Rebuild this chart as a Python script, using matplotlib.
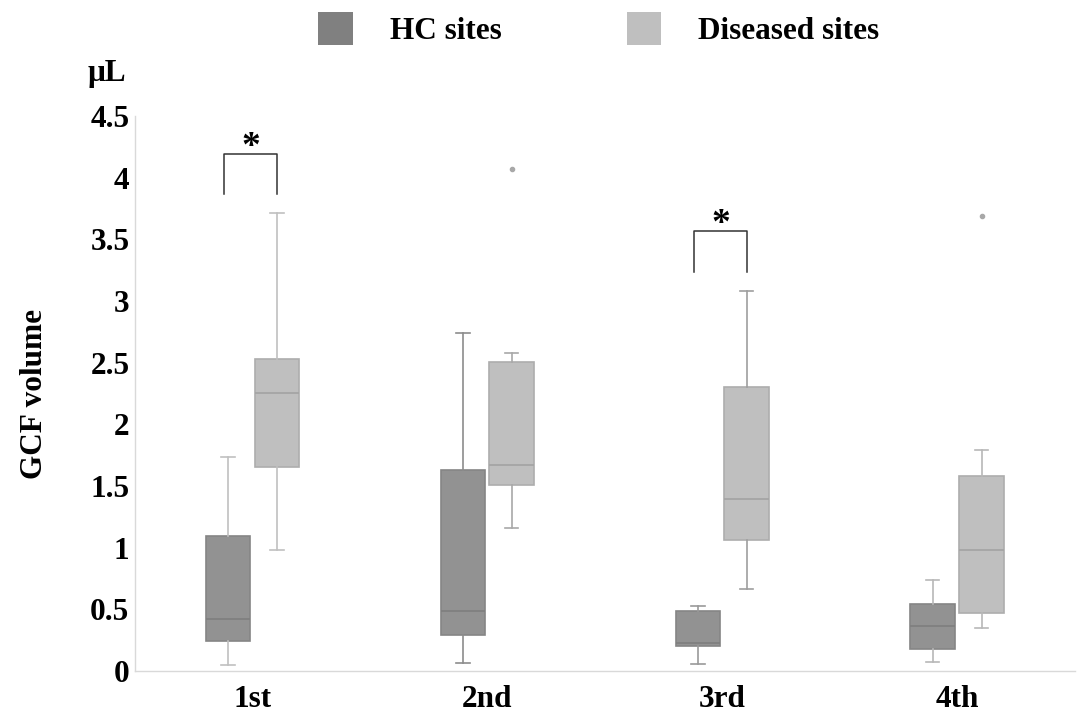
import matplotlib
matplotlib.use("Agg")
import matplotlib.pyplot as plt
from matplotlib.patches import Patch

plt.rcParams['font.family'] = ['Liberation Serif', 'DejaVu Serif']
plt.rcParams['font.weight'] = 'bold'

categories = ["1st", "2nd", "3rd", "4th"]
series = ["HC sites", "Diseased sites"]

# box statistics: whislo, q1, median, q3, whishi
hc_whislo = [0.045, 0.063, 0.057, 0.076]
hc_q1     = [0.24, 0.289, 0.203, 0.178]
hc_med    = [0.42, 0.483, 0.225, 0.367]
hc_q3     = [1.097, 1.627, 0.484, 0.54]
hc_whishi = [1.737, 2.74, 0.527, 0.735]
hc_fliers = [[], [], [], []]

dis_whislo = [0.978, 1.16, 0.662, 0.346]
dis_q1     = [1.656, 1.51, 1.062, 0.473]
dis_med    = [2.253, 1.67, 1.392, 0.979]
dis_q3     = [2.534, 2.51, 2.30, 1.579]
dis_whishi = [3.715, 2.58, 3.08, 1.79]
dis_fliers = [[], [4.07], [], [3.687]]

# significance brackets: group index, leg bottom, bracket top
sig_groups = [0, 2]
sig_bottom = [3.866, 3.24]
sig_top = [4.19, 3.568]
sig_label = ["*", "*"]

yticks = [0, 0.5, 1, 1.5, 2, 2.5, 3, 3.5, 4, 4.5]
yticklabels = ["0", "0.5", "1", "1.5", "2", "2.5", "3", "3.5", "4", "4.5"]

FS = 22.5

fig = plt.figure(figsize=(10.8, 7.17), dpi=100)
ax = fig.add_axes([0.125, 0.0642, 0.87, 0.7738])

offset = 0.104
width = 0.19


def stats(wl, q1, md, q3, wh, fl):
    return [dict(whislo=a, q1=b, med=c, q3=d, whishi=e, fliers=f)
            for a, b, c, d, e, f in zip(wl, q1, md, q3, wh, fl)]


hc_stats = stats(hc_whislo, hc_q1, hc_med, hc_q3, hc_whishi, hc_fliers)
dis_stats = stats(dis_whislo, dis_q1, dis_med, dis_q3, dis_whishi, dis_fliers)

pos = list(range(len(categories)))

hc = ax.bxp(hc_stats, positions=[p - offset for p in pos], widths=width,
            patch_artist=True, capwidths=width * 0.3,
            boxprops=dict(facecolor="#929292", edgecolor="#858585", linewidth=1.2),
            medianprops=dict(color="#7e7e7e", linewidth=1.2),
            whiskerprops=dict(color="#a6a6a6", linewidth=1.2),
            capprops=dict(color="#a6a6a6", linewidth=1.2),
            flierprops=dict(marker="o", markersize=3, markerfacecolor="#a0a0a0",
                            markeredgecolor="#a0a0a0"))
dis = ax.bxp(dis_stats, positions=[p + offset for p in pos], widths=width,
             patch_artist=True, capwidths=width * 0.3,
             boxprops=dict(facecolor="#bfbfbf", edgecolor="#adadad", linewidth=1.2),
             medianprops=dict(color="#a3a3a3", linewidth=1.2),
             whiskerprops=dict(color="#b4b4b4", linewidth=1.2),
             capprops=dict(color="#b4b4b4", linewidth=1.2),
             flierprops=dict(marker="o", markersize=3, markerfacecolor="#a8a8a8",
                             markeredgecolor="#a8a8a8"))

# whisker shades vary a little per box in the reference
hc_wcol = ["#c0c0c0", "#8c8c8c", "#9a9a9a", "#b8b8b8"]
dis_wcol = ["#c0c0c0", "#a8a8a8", "#9e9e9e", "#b8b8b8"]
for arts, cols in ((hc, hc_wcol), (dis, dis_wcol)):
    for i, c in enumerate(cols):
        for ln in arts["whiskers"][2 * i:2 * i + 2] + arts["caps"][2 * i:2 * i + 2]:
            ln.set_color(c)

for g, b, t, lab in zip(sig_groups, sig_bottom, sig_top, sig_label):
    x1 = g - offset - 0.015
    x2 = g + offset
    ax.plot([x1, x1, x2, x2], [b, t, t, b], color="#333333", linewidth=1.1)
    ax.text((x1 + x2) / 2, t - 0.09, lab, ha="center", va="bottom",
            fontsize=27, fontweight="bold")

ax.set_xlim(-0.5, len(categories) - 0.5)
ax.set_ylim(0, 4.5)
ax.set_xticks(pos)
ax.set_xticklabels(categories, fontsize=FS, fontweight="bold")
ax.set_yticks(yticks)
ax.set_yticklabels(yticklabels, fontsize=FS, fontweight="bold")
ax.tick_params(axis="both", length=0)
ax.tick_params(axis="x", pad=10)
ax.tick_params(axis="y", pad=4)
for s in ["top", "right"]:
    ax.spines[s].set_visible(False)
for s in ["left", "bottom"]:
    ax.spines[s].set_color("#d9d9d9")
    ax.spines[s].set_linewidth(1.0)

ax.set_ylabel("GCF volume", fontsize=FS, fontweight="bold", labelpad=30)
fig.text(0.099, 0.897, "μL", ha="center", va="center", fontsize=FS,
         fontweight="bold")

handles = [Patch(facecolor="#808080", edgecolor="none"),
           Patch(facecolor="#bfbfbf", edgecolor="none")]
fig.legend(handles, series, loc="center", bbox_to_anchor=(0.5546, 0.959),
           ncol=2, frameon=False, handlelength=1.09,
           handleheight=1.25, handletextpad=1.2, columnspacing=4.0,
           prop=dict(size=FS, weight="bold"))

fig.savefig("out.png", dpi=100)
